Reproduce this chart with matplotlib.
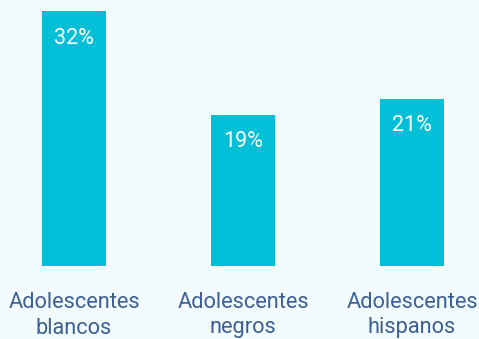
import matplotlib
matplotlib.use("Agg")
import matplotlib.pyplot as plt
from matplotlib.transforms import blended_transform_factory

categories = ["Adolescentes\nblancos", "Adolescentes\nnegros", "Adolescentes\nhispanos"]
values = [32, 19, 21]
value_labels = ["32%", "19%", "21%"]

BG = "#f2fbfd"
BAR = "#00bfd6"
TXT = "#3d5f95"

plt.rcParams['font.family'] = ['Roboto', 'DejaVu Sans']

fig = plt.figure(figsize=(4.79, 3.39), dpi=100, facecolor=BG)
ax = fig.add_axes([0, 73/339, 1, 255/339])
ax.set_facecolor(BG)

x = list(range(len(categories)))
ax.bar(x, values, width=64/169, color=BAR)
ax.set_xlim(-74/169, 2 + 67/169)
ax.set_ylim(0, 32)

for xi, v, lab in zip(x, values, value_labels):
    ax.annotate(lab, (xi, v), xytext=(0, -19.5), textcoords="offset points",
                ha="center", va="center", color="white", fontsize=15.5)

trans = blended_transform_factory(ax.transData, fig.transFigure)
for xi, cat in zip(x, categories):
    l1, l2 = cat.split("\n")
    ax.text(xi, 1 - 303/339, l1, transform=trans, ha="center", va="center",
            color=TXT, fontsize=15.7)
    ax.text(xi, 1 - 328/339, l2, transform=trans, ha="center", va="center",
            color=TXT, fontsize=15.7)

for s in ax.spines.values():
    s.set_visible(False)
ax.set_xticks([])
ax.set_yticks([])

fig.savefig("out.png", dpi=100, facecolor=BG)
